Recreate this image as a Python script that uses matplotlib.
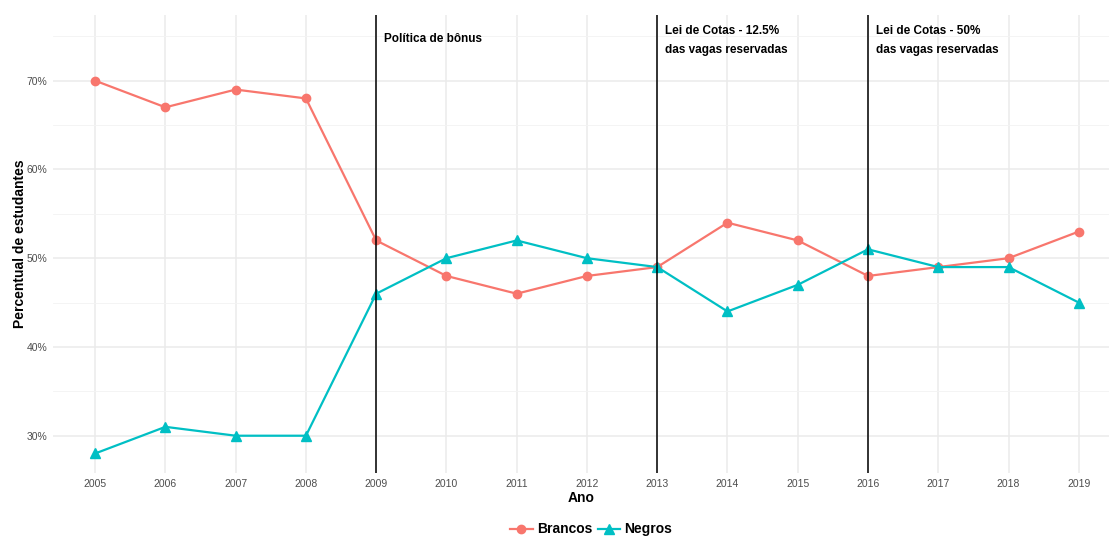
import numpy as np
import matplotlib.pyplot as plt
from matplotlib.lines import Line2D
from matplotlib.ticker import FuncFormatter

plt.rcParams['font.family'] = ['Liberation Sans', 'DejaVu Sans']

anos = list(range(2005, 2020))
brancos = [70, 67, 69, 68, 52, 48, 46, 48, 49, 54, 52, 48, 49, 50, 53]
negros = [28, 31, 30, 30, 46, 50, 52, 50, 49, 44, 47, 51, 49, 49, 45]

politicas_anos = [2009, 2013, 2016]
politicas_textos = ["Política de bônus",
                    "Lei de Cotas - 12.5%\ndas vagas reservadas",
                    "Lei de Cotas - 50%\ndas vagas reservadas"]

cor_brancos = "#F8766D"
cor_negros = "#00BFC4"

fig = plt.figure(figsize=(11.09, 5.38), dpi=100)
ax = fig.add_axes([53 / 1109, 65 / 538, 1 - 53 / 1109, (473 - 15) / 538])

ax.set_xlim(2004.4, 2019.43)
ax.set_ylim(25.8, 77.4)

# grid estilo theme_minimal
ax.set_yticks([30, 40, 50, 60, 70])
ax.set_yticks([35, 45, 55, 65, 75], minor=True)
ax.set_xticks(anos)
ax.grid(which="major", color="#ebebeb", linewidth=1.1)
ax.grid(which="minor", axis="y", color="#f3f3f3", linewidth=0.6)
ax.set_axisbelow(True)
for s in ax.spines.values():
    s.set_visible(False)
ax.tick_params(which="both", length=0, labelsize=7.5, labelcolor="#4d4d4d", pad=4)
ax.yaxis.set_major_formatter(FuncFormatter(lambda v, p: f"{v:.0f}%"))

ax.plot(anos, brancos, color=cor_brancos, linewidth=1.6, marker="o", markersize=6, zorder=3)
ax.plot(anos, negros, color=cor_negros, linewidth=1.6, marker="^", markersize=6.5, zorder=3)

for ano, txt in zip(politicas_anos, politicas_textos):
    ax.axvline(ano, color="black", linewidth=1.1, zorder=4)
    if "\n" in txt:
        ax.text(ano + 0.11, 76.3, txt, fontsize=8.5, fontweight="bold", va="top",
                ha="left", linespacing=1.75)
    else:
        ax.text(ano + 0.11, 74.75, txt, fontsize=8.5, fontweight="bold", va="center",
                ha="left")

ax.set_xlabel("Ano", fontsize=10, fontweight="bold", labelpad=2)
ax.set_ylabel("Percentual de estudantes", fontsize=10, fontweight="bold", labelpad=0)

handles = [
    Line2D([], [], color=cor_brancos, marker="o", linewidth=1.6, markersize=6),
    Line2D([], [], color=cor_negros, marker="^", linewidth=1.6, markersize=6.5),
]
fig.legend(handles, ["Brancos", "Negros"], loc="center", bbox_to_anchor=(0.533, 0.016),
           ncol=2, frameon=False, prop={"size": 10, "weight": "bold"},
           handlelength=1.6, handletextpad=0.3, columnspacing=0.4)

fig.savefig("out.png", dpi=100)
